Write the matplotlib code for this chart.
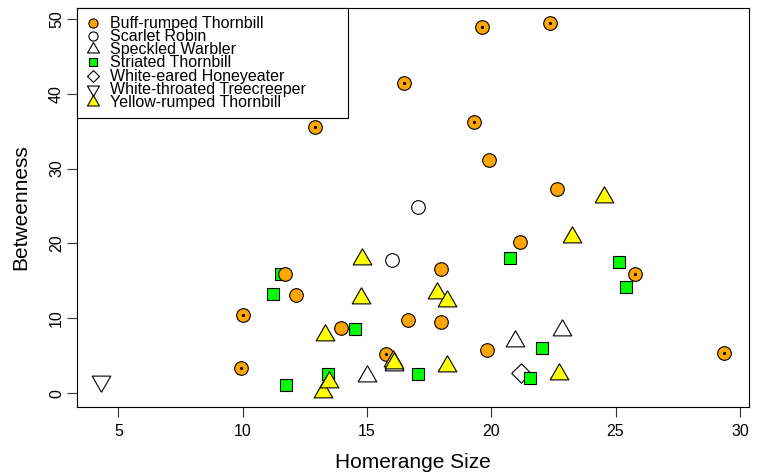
import matplotlib
matplotlib.use("Agg")
import matplotlib.pyplot as plt
from matplotlib.lines import Line2D

plt.rcParams['font.family'] = ['Liberation Sans', 'DejaVu Sans']

# Homerange size (x) and betweenness (y) per bird, grouped by species
buff_x = [9.95, 10.0, 12.92, 16.49, 19.62, 22.35, 19.30, 25.80, 29.38, 15.75,
          19.90, 22.64, 21.14, 17.99, 11.69, 12.13, 13.97, 16.64, 17.97, 19.82]
buff_y = [3.3, 10.44, 35.55, 41.45, 48.94, 49.48, 36.18, 15.9, 5.4, 5.22,
          31.2, 27.3, 20.25, 16.55, 15.9, 13.07, 8.65, 9.72, 9.5, 5.7]
buff_flag = [True, True, True, True, True, True, True, True, True, True,
             False, False, False, False, False, False, False, False, False, False]

robin_x = [17.05, 15.99]
robin_y = [24.9, 17.84]

speckled_x = [15.01, 16.1, 20.96, 22.85]
speckled_y = [2.3, 3.8, 6.99, 8.42]

striated_x = [11.21, 11.53, 11.74, 14.5, 13.43, 17.06, 20.76, 25.13, 25.41, 22.06, 21.55]
striated_y = [13.25, 15.93, 1.02, 8.5, 2.5, 2.5, 18.07, 17.5, 14.2, 5.97, 2.0]

honeyeater_x = [21.2]
honeyeater_y = [2.68]

treecreeper_x = [4.32]
treecreeper_y = [1.58]

yellow_x = [14.79, 14.76, 17.83, 18.2, 13.31, 13.23, 13.48, 18.2, 16.03, 16.1,
            24.53, 23.25, 22.73]
yellow_y = [17.92, 12.68, 13.32, 12.25, 7.79, 0.12, 1.5, 3.56, 4.31, 3.96,
            26.27, 20.9, 2.53]

species = ["Buff-rumped Thornbill", "Scarlet Robin", "Speckled Warbler",
           "Striated Thornbill", "White-eared Honeyeater",
           "White-throated Treecreeper", "Yellow-rumped Thornbill"]

# R-style equilateral triangles centred on their centroid, and a diamond
tri_up = [(0, 1), (-0.866, -0.5), (0.866, -0.5), (0, 1)]
tri_down = [(0, -1), (-0.866, 0.5), (0.866, 0.5), (0, -1)]
diamond = [(0, 1), (1, 0), (0, -1), (-1, 0), (0, 1)]

styles = {
    "Buff-rumped Thornbill": dict(marker='o', mfc='#FFA500', ms=9.8, lms=6.6),
    "Scarlet Robin": dict(marker='o', mfc='white', ms=9.8, lms=6.6),
    "Speckled Warbler": dict(marker=tri_up, mfc='white', ms=15.5, lms=10.0),
    "Striated Thornbill": dict(marker='s', mfc='#00FF00', ms=9.1, lms=5.4),
    "White-eared Honeyeater": dict(marker=diamond, mfc='white', ms=14.0, lms=8.6),
    "White-throated Treecreeper": dict(marker=tri_down, mfc='white', ms=15.5, lms=10.0),
    "Yellow-rumped Thornbill": dict(marker=tri_up, mfc='#FFFF00', ms=15.5, lms=10.0),
}

series = {
    "Buff-rumped Thornbill": (buff_x, buff_y),
    "Scarlet Robin": (robin_x, robin_y),
    "Speckled Warbler": (speckled_x, speckled_y),
    "Striated Thornbill": (striated_x, striated_y),
    "White-eared Honeyeater": (honeyeater_x, honeyeater_y),
    "White-throated Treecreeper": (treecreeper_x, treecreeper_y),
    "Yellow-rumped Thornbill": (yellow_x, yellow_y),
}

# drawing order (later layers sit on top)
order = ["White-eared Honeyeater", "Striated Thornbill", "Buff-rumped Thornbill",
         "Scarlet Robin", "Speckled Warbler", "White-throated Treecreeper",
         "Yellow-rumped Thornbill"]

fig = plt.figure(figsize=(7.6, 4.74), dpi=100)
ax = fig.add_axes([0.1007, 0.1414, 0.8853, 0.8416])

EDGE = 0.8
for z, name in enumerate(order):
    xs, ys = series[name]
    st = styles[name]
    ax.plot(xs, ys, linestyle='none', marker=st['marker'], markersize=st['ms'],
            markerfacecolor=st['mfc'], markeredgecolor='black',
            markeredgewidth=EDGE, zorder=3 + z)
    if name == "Buff-rumped Thornbill":
        fx = [x for x, f in zip(buff_x, buff_flag) if f]
        fy = [y for y, f in zip(buff_y, buff_flag) if f]
        ax.plot(fx, fy, linestyle='none', marker='o', markersize=2.3,
                markerfacecolor='black', markeredgewidth=0, zorder=3 + z + 0.5)

ax.margins(x=0.04, y=0.04)
ax.set_xticks([5, 10, 15, 20, 25, 30])
ax.set_yticks([0, 10, 20, 30, 40, 50])
ax.tick_params(axis='both', direction='out', length=7, width=0.8,
               labelsize=11.5, color='#333333')
ax.tick_params(axis='x', pad=5)
ax.tick_params(axis='y', pad=2)
for lab in ax.get_yticklabels():
    lab.set_rotation(90)
    lab.set_verticalalignment('center')
for sp in ax.spines.values():
    sp.set_linewidth(0.8)
    sp.set_color('black')

ax.set_xlabel("Homerange Size", fontsize=15, labelpad=10)
ax.set_ylabel("Betweenness", fontsize=15, labelpad=13.5)

handles = []
for name in species:
    st = styles[name]
    handles.append(Line2D([], [], linestyle='none', marker=st['marker'],
                          markersize=st['lms'], markerfacecolor=st['mfc'],
                          markeredgecolor='black', markeredgewidth=0.8))

leg = ax.legend(handles, species, loc='upper left', mode='expand',
                bbox_to_anchor=(0, 0, 0.404, 1), borderaxespad=0,
                fontsize=11.5, frameon=True, fancybox=False, framealpha=1,
                edgecolor='black', borderpad=0.48, labelspacing=-0.11,
                handlelength=1.16, handletextpad=0.47, handleheight=0.5)
leg.get_frame().set_linewidth(0.8)
leg.set_zorder(20)

fig.savefig("out.png", dpi=100)
